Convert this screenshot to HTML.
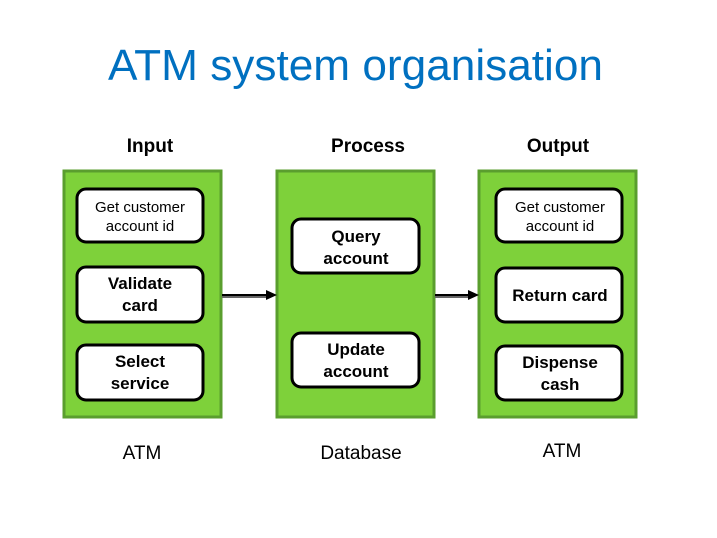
<!DOCTYPE html>
<html><head><meta charset="utf-8"><style>
html,body{margin:0;padding:0;background:#fff;}
svg{display:block;font-family:"Liberation Sans",Arial,sans-serif;}
</style></head><body>
<svg width="717" height="538" viewBox="0 0 717 538" xmlns="http://www.w3.org/2000/svg">
<text x="108" y="80" font-size="44" fill="#0070C0" textLength="495" lengthAdjust="spacingAndGlyphs">ATM system organisation</text>
<g font-weight="bold" font-size="19" fill="#000" text-anchor="middle">
<text x="150" y="152">Input</text>
<text x="368" y="152">Process</text>
<text x="558" y="152">Output</text>
</g>
<g fill="#7ed13a" stroke="#5a9e2e" stroke-width="3">
<rect x="64" y="171" width="157" height="246"/>
<rect x="277" y="171" width="157" height="246"/>
<rect x="479" y="171" width="157" height="246"/>
</g>
<g stroke="#666" stroke-width="4">
<line x1="222" y1="296" x2="268" y2="296"/>
<line x1="435" y1="296" x2="471" y2="296"/>
</g>
<g stroke="#000" stroke-width="2">
<line x1="222" y1="295" x2="268" y2="295"/>
<line x1="435" y1="295" x2="471" y2="295"/>
</g>
<path d="M266,290 L277,295 L266,300 z" fill="#000"/>
<path d="M468,290 L479,295 L468,300 z" fill="#000"/>
<g fill="#fff" stroke="#000" stroke-width="3">
<rect x="77" y="189" width="126" height="53" rx="9"/>
<rect x="77" y="267" width="126" height="55" rx="9"/>
<rect x="77" y="345" width="126" height="55" rx="9"/>
<rect x="292" y="219" width="127" height="54" rx="9"/>
<rect x="292" y="333" width="127" height="54" rx="9"/>
<rect x="496" y="189" width="126" height="53" rx="9"/>
<rect x="496" y="268" width="126" height="54" rx="9"/>
<rect x="496" y="346" width="126" height="54" rx="9"/>
</g>
<g font-size="15" fill="#000" text-anchor="middle">
<text x="140" y="212">Get customer</text>
<text x="140" y="231">account id</text>
<text x="560" y="212">Get customer</text>
<text x="560" y="231">account id</text>
</g>
<g font-size="17" font-weight="bold" fill="#000" text-anchor="middle">
<text x="140" y="289">Validate</text>
<text x="140" y="311">card</text>
<text x="140" y="367">Select</text>
<text x="140" y="389">service</text>
<text x="356" y="242">Query</text>
<text x="356" y="264">account</text>
<text x="356" y="355">Update</text>
<text x="356" y="377">account</text>
<text x="560" y="301">Return card</text>
<text x="560" y="368">Dispense</text>
<text x="560" y="390">cash</text>
</g>
<g font-size="19" fill="#000" text-anchor="middle">
<text x="142" y="459">ATM</text>
<text x="361" y="459">Database</text>
<text x="562" y="457">ATM</text>
</g>
</svg>
</body></html>
